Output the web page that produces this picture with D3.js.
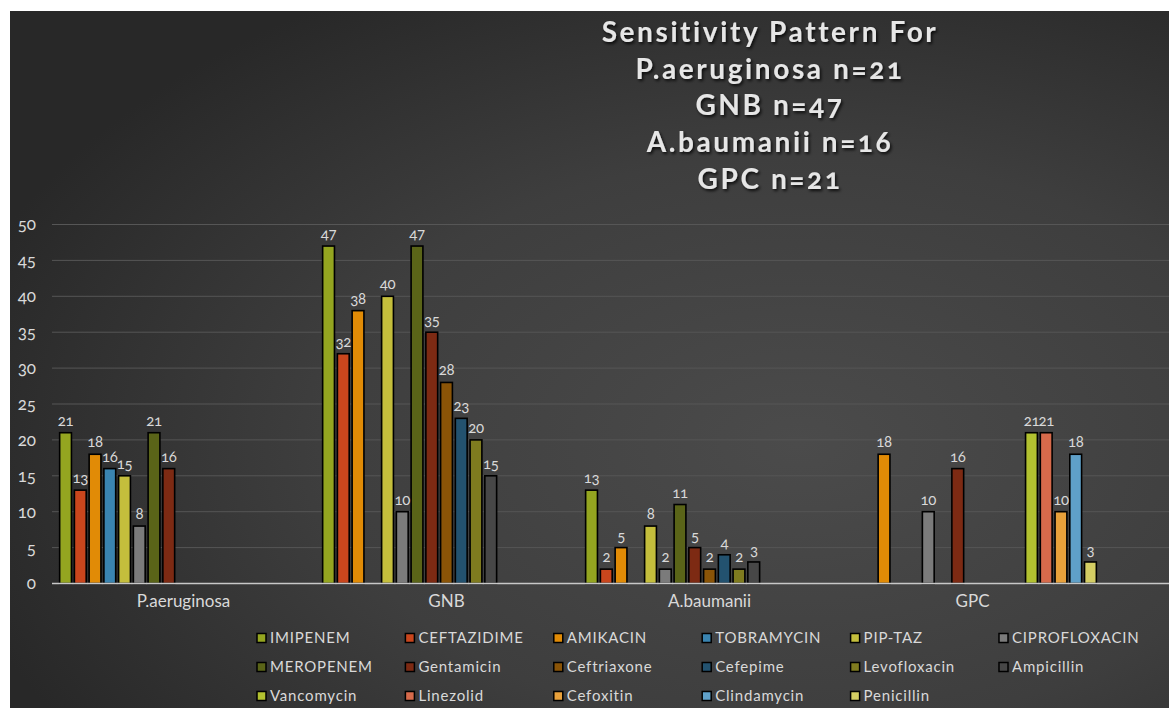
<!DOCTYPE html>
<html>
<head>
<meta charset="utf-8">
<script src="https://cdn.jsdelivr.net/npm/d3@7"></script>
<style>
  body { margin: 0; background: #fff; }
  svg text { font-family: Lato, "Open Sans", sans-serif; font-variant-numeric: oldstyle-nums; }
</style>
</head>
<body>
<script>
// categories and series
var categories = ["P.aeruginosa", "GNB", "A.baumanii", "GPC"];
var drugs = ["IMIPENEM", "CEFTAZIDIME", "AMIKACIN", "TOBRAMYCIN", "PIP-TAZ", "CIPROFLOXACIN",
  "MEROPENEM", "Gentamicin", "Ceftriaxone", "Cefepime", "Levofloxacin", "Ampicillin",
  "Vancomycin", "Linezolid", "Cefoxitin", "Clindamycin", "Penicillin"];
var colors = ["#94a520", "#c9461d", "#e18b06", "#3a84b0", "#c4be3c", "#7b7b7b",
  "#5a6418", "#7d2a13", "#8a5407", "#23526f", "#7f7b1f", "#474747",
  "#b2c130", "#d66a4b", "#e8a13b", "#5fa0c8", "#d3cd63"];

// values per category, one per drug (null = not tested)
var pAeruginosa = [21, 13, 18, 16, 15, 8, 21, 16, null, null, null, null, null, null, null, null, null];
var gnb         = [47, 32, 38, null, 40, 10, 47, 35, 28, 23, 20, 15, null, null, null, null, null];
var aBaumanii   = [13, 2, 5, null, 8, 2, 11, 5, 2, 4, 2, 3, null, null, null, null, null];
var gpc         = [null, null, 18, null, null, 10, null, 16, null, null, null, null, 21, 21, 10, 18, 3];
var yTicks = [0, 5, 10, 15, 20, 25, 30, 35, 40, 45, 50];

var titleLines = ["Sensitivity Pattern For", "P.aeruginosa n=21", "GNB n=47", "A.baumanii n=16", "GPC n=21"];

var values = [pAeruginosa, gnb, aBaumanii, gpc];
var data = [];
categories.forEach(function(c, i) {
  drugs.forEach(function(d, j) {
    if (values[i][j] != null) data.push({cat: c, drug: d, value: values[i][j]});
  });
});

var W = 1169, H = 708;
var svg = d3.select("body").append("svg")
  .attr("width", W).attr("height", H);

var defs = svg.append("defs");
var grad = defs.append("radialGradient").attr("id", "bg")
  .attr("cx", "68%").attr("cy", "62%").attr("r", "75%");
grad.append("stop").attr("offset", "0%").attr("stop-color", "#4b4b4b");
grad.append("stop").attr("offset", "55%").attr("stop-color", "#3e3e3e");
grad.append("stop").attr("offset", "100%").attr("stop-color", "#282828");

var shadow = defs.append("filter").attr("id", "shadow")
  .attr("x", "-10%").attr("y", "-30%").attr("width", "120%").attr("height", "160%");
shadow.append("feDropShadow").attr("dx", 1.5).attr("dy", 2).attr("stdDeviation", 1.5)
  .attr("flood-color", "#000").attr("flood-opacity", 0.8);

// chart background
svg.append("rect").attr("x", 10).attr("y", 11)
  .attr("width", W - 10).attr("height", H - 11)
  .attr("fill", "url(#bg)");

// scales
var x0 = d3.scaleBand().domain(categories).range([52, 1104]).paddingInner(0.047).paddingOuter(0.0235);
var x1 = d3.scaleBand().domain(drugs).range([0, x0.bandwidth()]).paddingInner(0.2).paddingOuter(0.1);
var y = d3.scaleLinear().domain([0, 50]).range([583.5, 224.5]);
var color = d3.scaleOrdinal().domain(drugs).range(colors);

// gridlines
svg.append("g")
  .selectAll("line").data(yTicks.slice(1)).enter().append("line")
  .attr("x1", 52).attr("x2", W)
  .attr("y1", function(d) { return y(d); })
  .attr("y2", function(d) { return y(d); })
  .attr("stroke", "#565656").attr("stroke-width", 1);

// y axis labels
var yAxis = svg.append("g")
  .attr("transform", "translate(52,0)")
  .call(d3.axisLeft(y).tickValues(yTicks).tickSize(0).tickPadding(16));
yAxis.select(".domain").remove();
yAxis.selectAll("text")
  .attr("fill", "#d9d9d9")
  .style("font-size", "17px");

// bars
svg.append("g")
  .selectAll("rect").data(data).enter().append("rect")
  .attr("x", function(d) { return x0(d.cat) + x1(d.drug); })
  .attr("y", function(d) { return y(d.value); })
  .attr("width", x1.bandwidth())
  .attr("height", function(d) { return y(0) - y(d.value); })
  .attr("fill", function(d) { return color(d.drug); })
  .attr("stroke", "#000").attr("stroke-width", 1.6);

// value labels
svg.append("g")
  .selectAll("text").data(data).enter().append("text")
  .attr("x", function(d) { return x0(d.cat) + x1(d.drug) + x1.bandwidth() / 2; })
  .attr("y", function(d) { return y(d.value) - 7; })
  .attr("text-anchor", "middle")
  .attr("fill", "#d9d9d9")
  .style("font-size", "15px")
  .style("letter-spacing", "-0.4px")
  .text(function(d) { return d.value; });

// x axis
var xAxis = svg.append("g")
  .attr("transform", "translate(0," + y(0) + ")")
  .call(d3.axisBottom(x0).tickSize(0).tickPadding(11));
xAxis.select(".domain").attr("d", "M52,0H" + W).attr("stroke", "#c8c8c8").attr("stroke-width", 1.5);
xAxis.selectAll("text")
  .attr("fill", "#d9d9d9")
  .style("font-size", "17px");

// title
svg.append("g").attr("filter", "url(#shadow)")
  .selectAll("text").data(titleLines).enter().append("text")
  .attr("x", 770)
  .attr("y", function(d, i) { return 42 + i * 36.7; })
  .attr("text-anchor", "middle")
  .attr("fill", "#e6e6e6")
  .style("font-size", "28px")
  .style("font-weight", "bold")
  .style("letter-spacing", "2.6px")
  .text(function(d) { return d; });

// legend
var legend = svg.append("g")
  .selectAll("g").data(drugs).enter().append("g")
  .attr("transform", function(d, i) {
    return "translate(" + (257 + (i % 6) * 148.4) + "," + (638 + Math.floor(i / 6) * 29) + ")";
  });
legend.append("rect")
  .attr("x", 0).attr("y", -4.5).attr("width", 9).attr("height", 9)
  .attr("fill", function(d) { return color(d); })
  .attr("stroke", "#000").attr("stroke-width", 1.5);
legend.append("text")
  .attr("x", 13).attr("dy", "0.35em")
  .attr("fill", "#d9d9d9")
  .style("font-size", "15px")
  .style("letter-spacing", "0.8px")
  .text(function(d) { return d; });
</script>
</body>
</html>
